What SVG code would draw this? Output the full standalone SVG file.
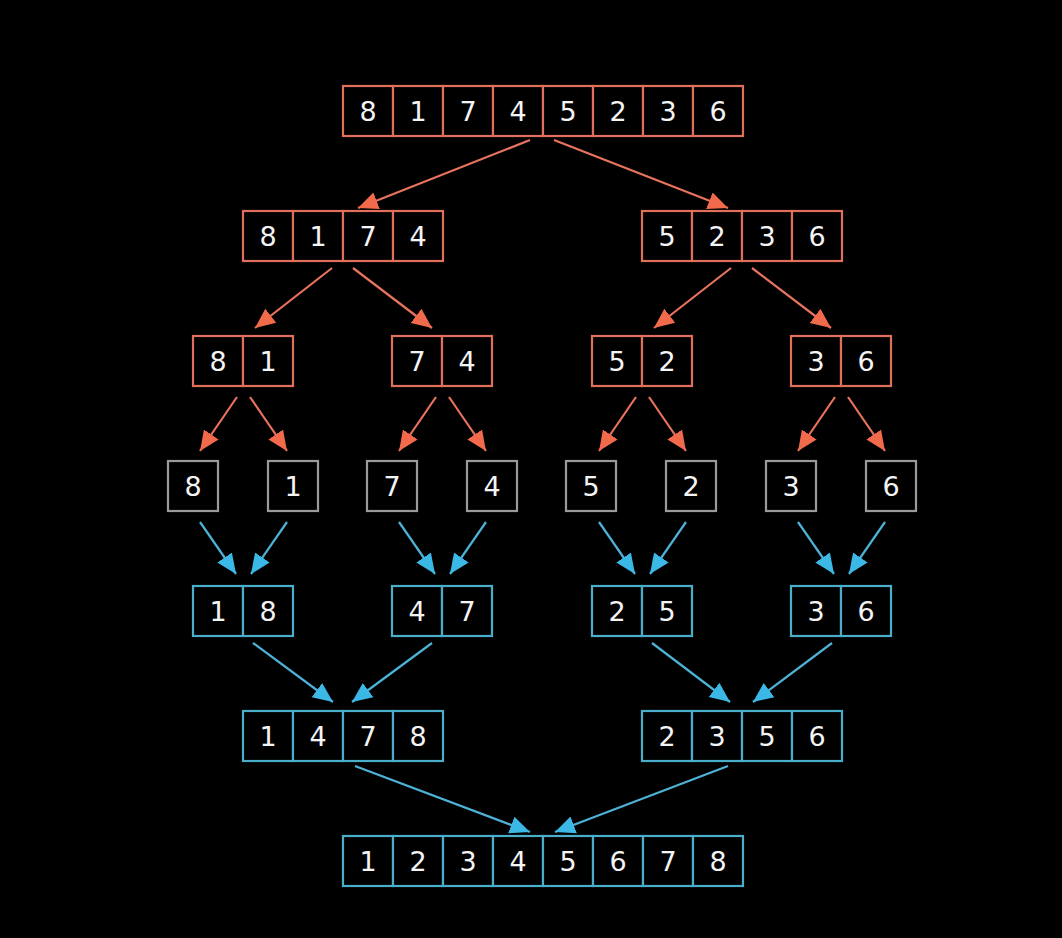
<svg xmlns="http://www.w3.org/2000/svg" width="1062" height="938" viewBox="0 0 1062 938">
<defs>
<style>
.bg{fill:#000}
.r rect{fill:#000;stroke:#e0705c;stroke-width:2.2}
.b rect{fill:#000;stroke:#4aaecb;stroke-width:2.2}
.g rect{fill:#000;stroke:#9a9a9a;stroke-width:2.2}
text{font-family:"DejaVu Sans","Liberation Sans",sans-serif;font-size:27px;fill:#f4f4f4;text-anchor:middle}
.ar{stroke:#e8735e;stroke-width:2.2;fill:none;marker-end:url(#mr)}
.ab{stroke:#4db2d6;stroke-width:2.2;fill:none;marker-end:url(#mb)}
</style>
<marker id="mr" markerUnits="userSpaceOnUse" markerWidth="20" markerHeight="20" viewBox="0 0 18 16" refX="18" refY="8" orient="auto"><path d="M0,0 L18,8 L0,16 Z" fill="#f26a4c"/></marker>
<marker id="mb" markerUnits="userSpaceOnUse" markerWidth="20" markerHeight="20" viewBox="0 0 18 16" refX="18" refY="8" orient="auto"><path d="M0,0 L18,8 L0,16 Z" fill="#3cb8e6"/></marker>
</defs>
<rect class="bg" x="0" y="0" width="1062" height="938"/>

<g id="connectors">
<line class="ar" x1="530" y1="140" x2="358" y2="208"/>
<line class="ar" x1="554" y1="140" x2="728" y2="208"/>
<line class="ar" x1="332" y1="268" x2="255" y2="328"/>
<line class="ar" x1="353" y1="268" x2="432" y2="328"/>
<line class="ar" x1="731" y1="268" x2="654" y2="328"/>
<line class="ar" x1="752" y1="268" x2="831" y2="328"/>
<line class="ar" x1="237" y1="397" x2="200" y2="451"/>
<line class="ar" x1="250" y1="397" x2="287" y2="451"/>
<line class="ar" x1="436" y1="397" x2="399" y2="451"/>
<line class="ar" x1="449" y1="397" x2="486" y2="451"/>
<line class="ar" x1="636" y1="397" x2="599" y2="451"/>
<line class="ar" x1="649" y1="397" x2="686" y2="451"/>
<line class="ar" x1="835" y1="397" x2="798" y2="451"/>
<line class="ar" x1="848" y1="397" x2="885" y2="451"/>
<line class="ab" x1="200" y1="522" x2="236" y2="574"/>
<line class="ab" x1="287" y1="522" x2="251" y2="574"/>
<line class="ab" x1="399" y1="522" x2="435" y2="574"/>
<line class="ab" x1="486" y1="522" x2="450" y2="574"/>
<line class="ab" x1="599" y1="522" x2="635" y2="574"/>
<line class="ab" x1="686" y1="522" x2="650" y2="574"/>
<line class="ab" x1="798" y1="522" x2="834" y2="574"/>
<line class="ab" x1="885" y1="522" x2="849" y2="574"/>
<line class="ab" x1="253" y1="643" x2="333" y2="702"/>
<line class="ab" x1="432" y1="643" x2="352" y2="702"/>
<line class="ab" x1="652" y1="643" x2="730" y2="702"/>
<line class="ab" x1="832" y1="643" x2="753" y2="702"/>
<line class="ab" x1="355" y1="766" x2="530" y2="832"/>
<line class="ab" x1="728" y1="766" x2="555" y2="832"/>
</g>

<g id="l1" class="r">
<rect x="343" y="86" width="50" height="50"/><text x="368" y="121">8</text>
<rect x="393" y="86" width="50" height="50"/><text x="418" y="121">1</text>
<rect x="443" y="86" width="50" height="50"/><text x="468" y="121">7</text>
<rect x="493" y="86" width="50" height="50"/><text x="518" y="121">4</text>
<rect x="543" y="86" width="50" height="50"/><text x="568" y="121">5</text>
<rect x="593" y="86" width="50" height="50"/><text x="618" y="121">2</text>
<rect x="643" y="86" width="50" height="50"/><text x="668" y="121">3</text>
<rect x="693" y="86" width="50" height="50"/><text x="718" y="121">6</text>
</g>

<g id="l2a" class="r">
<rect x="243" y="211" width="50" height="50"/><text x="268" y="246">8</text>
<rect x="293" y="211" width="50" height="50"/><text x="318" y="246">1</text>
<rect x="343" y="211" width="50" height="50"/><text x="368" y="246">7</text>
<rect x="393" y="211" width="50" height="50"/><text x="418" y="246">4</text>
</g>
<g id="l2b" class="r">
<rect x="642" y="211" width="50" height="50"/><text x="667" y="246">5</text>
<rect x="692" y="211" width="50" height="50"/><text x="717" y="246">2</text>
<rect x="742" y="211" width="50" height="50"/><text x="767" y="246">3</text>
<rect x="792" y="211" width="50" height="50"/><text x="817" y="246">6</text>
</g>

<g id="l3a" class="r">
<rect x="193" y="336" width="50" height="50"/><text x="218" y="371">8</text>
<rect x="243" y="336" width="50" height="50"/><text x="268" y="371">1</text>
</g>
<g id="l3b" class="r">
<rect x="392" y="336" width="50" height="50"/><text x="417" y="371">7</text>
<rect x="442" y="336" width="50" height="50"/><text x="467" y="371">4</text>
</g>
<g id="l3c" class="r">
<rect x="592" y="336" width="50" height="50"/><text x="617" y="371">5</text>
<rect x="642" y="336" width="50" height="50"/><text x="667" y="371">2</text>
</g>
<g id="l3d" class="r">
<rect x="791" y="336" width="50" height="50"/><text x="816" y="371">3</text>
<rect x="841" y="336" width="50" height="50"/><text x="866" y="371">6</text>
</g>

<g id="l4a" class="g"><rect x="168" y="461" width="50" height="50"/><text x="193" y="496">8</text></g>
<g id="l4b" class="g"><rect x="268" y="461" width="50" height="50"/><text x="293" y="496">1</text></g>
<g id="l4c" class="g"><rect x="367" y="461" width="50" height="50"/><text x="392" y="496">7</text></g>
<g id="l4d" class="g"><rect x="467" y="461" width="50" height="50"/><text x="492" y="496">4</text></g>
<g id="l4e" class="g"><rect x="566" y="461" width="50" height="50"/><text x="591" y="496">5</text></g>
<g id="l4f" class="g"><rect x="666" y="461" width="50" height="50"/><text x="691" y="496">2</text></g>
<g id="l4g" class="g"><rect x="766" y="461" width="50" height="50"/><text x="791" y="496">3</text></g>
<g id="l4h" class="g"><rect x="866" y="461" width="50" height="50"/><text x="891" y="496">6</text></g>

<g id="l5a" class="b">
<rect x="193" y="586" width="50" height="50"/><text x="218" y="621">1</text>
<rect x="243" y="586" width="50" height="50"/><text x="268" y="621">8</text>
</g>
<g id="l5b" class="b">
<rect x="392" y="586" width="50" height="50"/><text x="417" y="621">4</text>
<rect x="442" y="586" width="50" height="50"/><text x="467" y="621">7</text>
</g>
<g id="l5c" class="b">
<rect x="592" y="586" width="50" height="50"/><text x="617" y="621">2</text>
<rect x="642" y="586" width="50" height="50"/><text x="667" y="621">5</text>
</g>
<g id="l5d" class="b">
<rect x="791" y="586" width="50" height="50"/><text x="816" y="621">3</text>
<rect x="841" y="586" width="50" height="50"/><text x="866" y="621">6</text>
</g>

<g id="l6a" class="b">
<rect x="243" y="711" width="50" height="50"/><text x="268" y="746">1</text>
<rect x="293" y="711" width="50" height="50"/><text x="318" y="746">4</text>
<rect x="343" y="711" width="50" height="50"/><text x="368" y="746">7</text>
<rect x="393" y="711" width="50" height="50"/><text x="418" y="746">8</text>
</g>
<g id="l6b" class="b">
<rect x="642" y="711" width="50" height="50"/><text x="667" y="746">2</text>
<rect x="692" y="711" width="50" height="50"/><text x="717" y="746">3</text>
<rect x="742" y="711" width="50" height="50"/><text x="767" y="746">5</text>
<rect x="792" y="711" width="50" height="50"/><text x="817" y="746">6</text>
</g>

<g id="l7" class="b">
<rect x="343" y="836" width="50" height="50"/><text x="368" y="871">1</text>
<rect x="393" y="836" width="50" height="50"/><text x="418" y="871">2</text>
<rect x="443" y="836" width="50" height="50"/><text x="468" y="871">3</text>
<rect x="493" y="836" width="50" height="50"/><text x="518" y="871">4</text>
<rect x="543" y="836" width="50" height="50"/><text x="568" y="871">5</text>
<rect x="593" y="836" width="50" height="50"/><text x="618" y="871">6</text>
<rect x="643" y="836" width="50" height="50"/><text x="668" y="871">7</text>
<rect x="693" y="836" width="50" height="50"/><text x="718" y="871">8</text>
</g>
</svg>
